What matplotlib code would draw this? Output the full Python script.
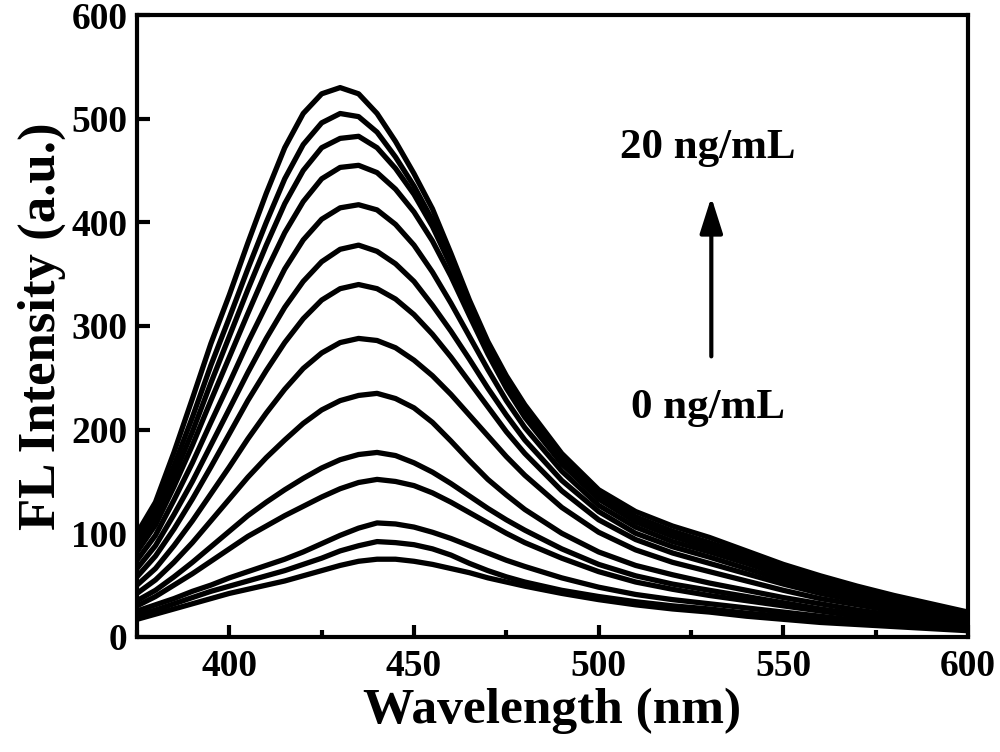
import matplotlib
matplotlib.use('Agg')
import matplotlib.pyplot as plt
from matplotlib.ticker import MultipleLocator

# emission wavelengths (nm)
wavelength = [375, 380, 385, 390, 395, 400, 405, 410, 415, 420, 425, 430, 435, 440, 445, 450,
              455, 460, 465, 470, 475, 480, 490, 500, 510, 520, 530, 540, 550, 560, 570, 580, 590, 600]

# FL intensity, highest concentration (20 ng/mL) first, 0 ng/mL last
fl_01 = [100, 130, 178, 230, 283, 330, 380, 428, 472, 505, 524, 530, 524, 505, 478, 447,
         413, 370, 325, 285, 252, 224, 177, 142, 121, 107, 96, 83, 70, 59, 49, 40, 32, 24]
fl_02 = [94, 122, 165, 212, 262, 308, 355, 400, 442, 475, 496, 505, 502, 487, 463, 435,
         402, 362, 320, 280, 247, 218, 172, 138, 116, 102, 91, 79, 66, 55, 46, 38, 30, 23]
fl_03 = [88, 115, 155, 198, 245, 290, 335, 378, 418, 450, 472, 481, 483, 472, 452, 427,
         396, 358, 317, 278, 244, 215, 170, 136, 114, 100, 89, 77, 64, 53, 44, 36, 29, 22]
fl_04 = [82, 108, 145, 185, 228, 270, 312, 353, 390, 420, 442, 453, 455, 448, 432, 410,
         382, 348, 310, 273, 240, 212, 167, 133, 111, 97, 86, 74, 62, 51, 42, 35, 28, 21]
fl_05 = [74, 98, 132, 168, 207, 245, 284, 320, 355, 383, 403, 414, 417, 412, 398, 378,
         352, 322, 290, 258, 228, 202, 160, 127, 106, 92, 82, 71, 59, 49, 40, 33, 26, 20]
fl_06 = [66, 88, 118, 150, 185, 220, 255, 288, 318, 343, 362, 374, 378, 372, 360, 343,
         320, 295, 268, 240, 214, 190, 151, 121, 100, 87, 77, 66, 55, 46, 38, 31, 25, 19]
fl_07 = [58, 78, 104, 133, 164, 196, 228, 257, 284, 307, 325, 336, 340, 336, 326, 311,
         292, 270, 246, 222, 198, 177, 141, 113, 94, 81, 71, 61, 51, 42, 35, 29, 23, 18]
fl_08 = [50, 66, 88, 112, 138, 164, 191, 216, 239, 259, 274, 284, 288, 286, 279, 267,
         252, 234, 214, 194, 174, 156, 125, 101, 84, 72, 63, 54, 45, 37, 31, 25, 20, 16]
fl_09 = [42, 55, 72, 91, 112, 133, 154, 173, 190, 206, 219, 228, 233, 235, 230, 221,
         207, 189, 170, 152, 137, 123, 100, 82, 69, 60, 52, 45, 38, 32, 26, 21, 17, 14]
fl_10 = [35, 45, 58, 72, 87, 102, 117, 130, 142, 153, 163, 171, 176, 178, 175, 168,
         159, 148, 136, 124, 113, 103, 85, 70, 59, 51, 45, 39, 33, 27, 22, 18, 15, 12]
fl_11 = [30, 39, 50, 61, 73, 85, 97, 107, 117, 126, 135, 143, 149, 152, 150, 146,
         139, 130, 120, 110, 100, 91, 76, 63, 53, 46, 40, 35, 30, 25, 20, 16, 13, 11]
fl_12 = [25, 31, 37, 44, 50, 57, 63, 69, 75, 82, 90, 98, 105, 110, 109, 106,
         101, 95, 88, 81, 74, 68, 57, 48, 41, 36, 32, 28, 24, 20, 16, 13, 11, 9]
fl_13 = [21, 26, 32, 38, 44, 49, 54, 59, 64, 70, 76, 83, 88, 92, 91, 89,
         85, 79, 71, 64, 58, 53, 45, 39, 34, 30, 27, 23, 20, 17, 14, 11, 9, 8]
fl_14 = [17, 22, 27, 32, 37, 42, 46, 50, 54, 59, 64, 69, 73, 75, 75, 73,
         70, 66, 62, 57, 53, 49, 42, 36, 31, 27, 24, 20, 17, 14, 12, 10, 8, 6]

spectra = [fl_01, fl_02, fl_03, fl_04, fl_05, fl_06, fl_07,
           fl_08, fl_09, fl_10, fl_11, fl_12, fl_13, fl_14]

plt.rcParams['font.family'] = ['Liberation Serif', 'DejaVu Serif']
plt.rcParams['font.weight'] = 'bold'

fig = plt.figure(figsize=(10, 7.52), dpi=100)
ax = fig.add_axes([0.137, 0.153, 0.831, 0.827])

for fl in spectra:
    ax.plot(wavelength, fl, c='black', lw=3.8, solid_joinstyle='round', solid_capstyle='round')

ax.set_xlim(375, 600)
ax.set_ylim(0, 600)
ax.xaxis.set_major_locator(MultipleLocator(50))
ax.xaxis.set_minor_locator(MultipleLocator(25))
ax.yaxis.set_major_locator(MultipleLocator(100))

for s in ax.spines.values():
    s.set_linewidth(3)
ax.tick_params(which='major', direction='in', length=9, width=3, labelsize=27, pad=9,
               top=False, right=False)
ax.tick_params(which='minor', direction='in', length=5, width=3, top=False, right=False)
ax.tick_params(axis='y', pad=7)

ax.set_xlabel('Wavelength (nm)', fontsize=37, fontweight='bold', labelpad=2)
ax.set_ylabel('FL Intensity (a.u.)', fontsize=38, fontweight='bold', labelpad=4)

ax.annotate('', xy=(530.5, 427), xytext=(530.5, 268),
            arrowprops=dict(arrowstyle='-|>,head_length=2.2,head_width=0.7',
                            color='black', lw=3))
ax.text(529.5, 472, '20 ng/mL', fontsize=31, fontweight='bold', ha='center', va='center')
ax.text(529.5, 221, '0 ng/mL', fontsize=31, fontweight='bold', ha='center', va='center')

fig.savefig('out.png', dpi=100)
